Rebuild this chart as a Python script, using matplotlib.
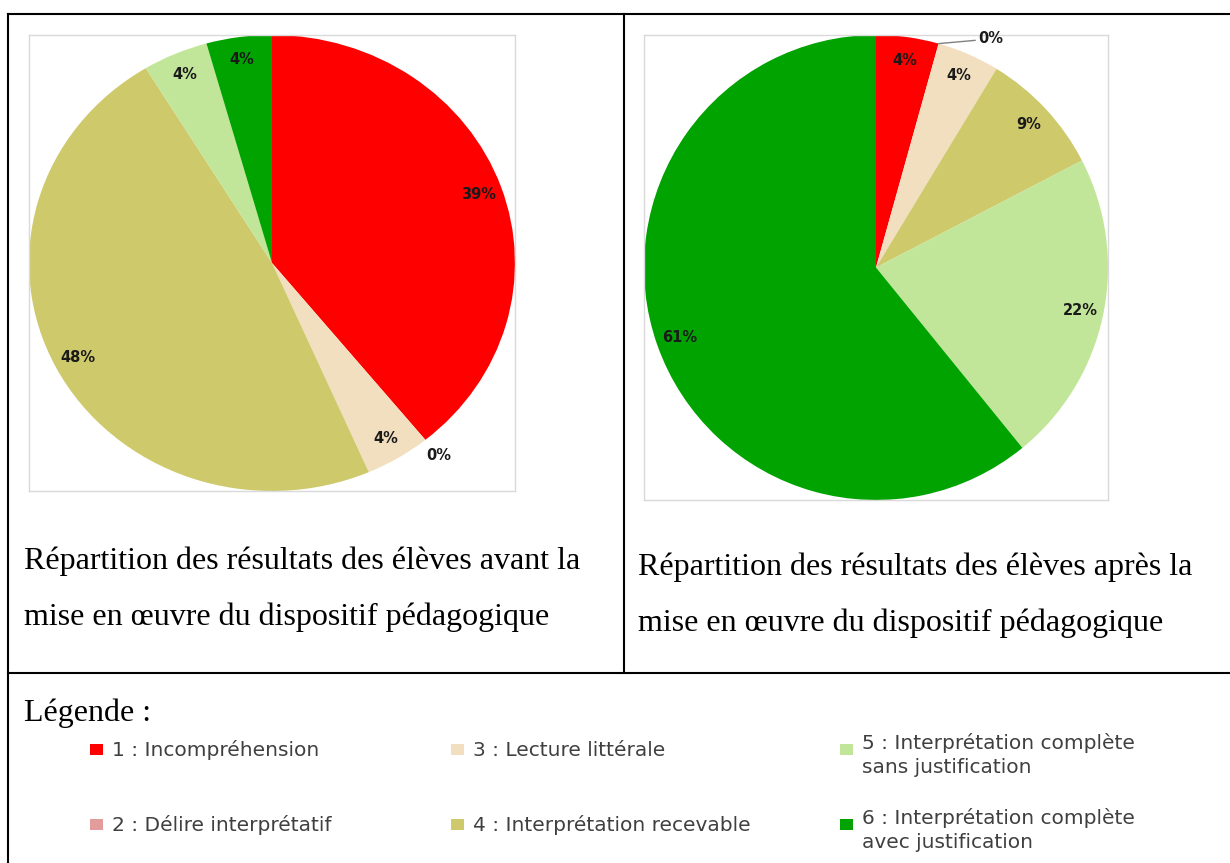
import matplotlib
matplotlib.use("Agg")
import matplotlib.pyplot as plt
from matplotlib.lines import Line2D
from matplotlib.patches import Rectangle
import numpy as np

W, H = 1230, 863

# number of pupils per level (23 pupils)
levels = ["1", "2", "3", "4", "5", "6"]
before = [9, 0, 1, 11, 1, 1]
after = [1, 0, 1, 2, 5, 14]
colors = ["#ff0000", "#e39c9c", "#f2dfbf", "#cec96b", "#c2e699", "#00a300"]

legend_labels = ["1 : Incompréhension",
                 "2 : Délire interprétatif",
                 "3 : Lecture littérale",
                 "4 : Interprétation recevable",
                 "5 : Interprétation complète\nsans justification",
                 "6 : Interprétation complète\navec justification"]

caption_before = ["Répartition des résultats des élèves avant la",
                  "mise en œuvre du dispositif pédagogique"]
caption_after = ["Répartition des résultats des élèves après la",
                 "mise en œuvre du dispositif pédagogique"]


def fx(px):
    return px / W


def fy(py):
    return 1 - py / H


fig = plt.figure(figsize=(W / 100, H / 100), dpi=100)


def draw_pie(box, vals, leader):
    x0, y0, x1, y1 = box
    ax = fig.add_axes([fx(x0), fy(y1), fx(x1 - x0), (y1 - y0) / H])
    wedges, texts, autotexts = ax.pie(vals, colors=colors, startangle=90,
                                      counterclock=False, radius=1,
                                      autopct='%.0f%%', pctdistance=0.9,
                                      wedgeprops=dict(linewidth=0),
                                      textprops=dict(fontsize=10.5, fontweight='bold',
                                                     color='#1a1a1a'))
    ax.set_aspect('auto')
    ax.set_xlim(-1, 1)
    ax.set_ylim(-1, 1)
    ax.set_frame_on(True)
    for s in ax.spines.values():
        s.set_color('#d9d9d9')
        s.set_linewidth(1)
    ax.set_xticks([])
    ax.set_yticks([])
    for w, v, t in zip(wedges, vals, autotexts):
        if v > 0:
            continue
        ang = np.deg2rad(w.theta1)
        ex, ey = np.cos(ang), np.sin(ang)
        if leader:
            t.set_visible(False)
            ax.annotate(t.get_text(), xy=(ex, ey), xytext=(ex + 0.17, ey + 0.02),
                        ha='left', va='center', fontsize=10.5, fontweight='bold',
                        color='#1a1a1a', annotation_clip=False,
                        arrowprops=dict(arrowstyle='-', color='#808080', lw=1,
                                        shrinkA=0, shrinkB=0))
        else:
            t.set_position((ex * 1.09, ey * 1.09))
            t.set_clip_on(False)
    return ax


draw_pie((29, 35, 515, 491), before, False)
draw_pie((644, 35, 1108, 500), after, True)

# table borders
lw = 1.5
for (xa, ya, xb, yb) in [(8, 14, W, 14), (8, 14, 8, H), (624, 14, 624, 673), (8, 673, W, 673)]:
    fig.add_artist(Line2D([fx(xa), fx(xb)], [fy(ya), fy(yb)], color='black', lw=lw))

serif = ['Liberation Serif', 'DejaVu Serif']
for (x, y), lines in [((24, 561), caption_before), ((638, 567), caption_after)]:
    for k, line in enumerate(lines):
        fig.text(fx(x), fy(y + 56 * k), line, family=serif, fontsize=23,
                 va='center', ha='left', color='black')

fig.text(fx(24), fy(713), "Légende :", family=serif, fontsize=23,
         va='center', ha='left', color='black')

# legend items (column-major: 1,2 | 3,4 | 5,6)
col_x = [90, 451, 840]
row_y = [750, 825]
for i, (lab, c) in enumerate(zip(legend_labels, colors)):
    cx = col_x[i // 2]
    ry = row_y[i % 2]
    two = '\n' in lab
    ty = ry - 7 if two else ry
    fig.add_artist(Rectangle((fx(cx), fy(ry + 5)), 13 / W, 11 / H, facecolor=c,
                             edgecolor='none', transform=fig.transFigure))
    for k, part in enumerate(lab.split('\n')):
        fig.text(fx(cx + 22), fy(ty + 24 * k), part, fontsize=14.5, color='#404040',
                 ha='left', va='center')

fig.savefig("out.png", dpi=100, facecolor='white')
